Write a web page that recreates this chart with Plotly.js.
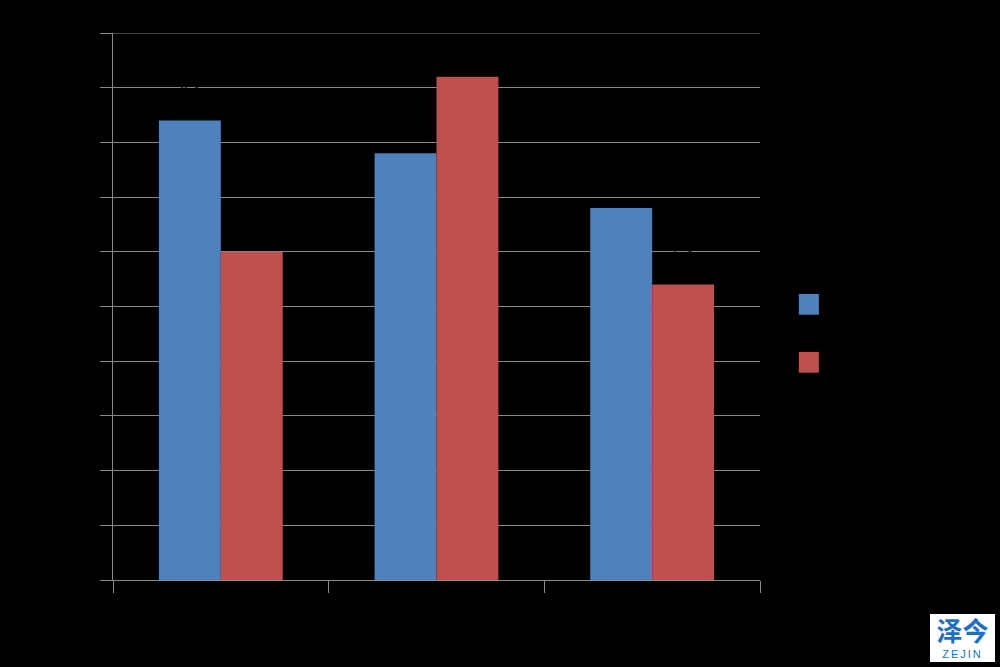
<!DOCTYPE html>
<html>
<head>
<meta charset="utf-8">
<script src="https://cdn.plot.ly/plotly-3.0.1.min.js"></script>
<style>
  html, body { margin: 0; padding: 0; background: #000000; }
  #chart { width: 1000px; height: 667px; }
</style>
</head>
<body>
<div id="chart"></div>
<script>
const categories = ["类别一", "类别二", "类别三"];
const seriesNames = ["系列1", "系列2"];
const series1 = [8.4, 7.8, 6.8];
const series2 = [6.0, 9.2, 5.4];
const yTicks = [0, 1, 2, 3, 4, 5, 6, 7, 8, 9, 10];
const yMax = 10;
const colors = ["#4F81BD", "#C0504D"];

const traces = [series1, series2].map((vals, i) => ({
  type: "bar",
  name: seriesNames[i],
  x: categories,
  y: vals,
  marker: { color: colors[i], line: { width: 0 } },
  text: vals.map(v => v.toFixed(1) + "<br> "),
  textposition: "outside",
  textfont: { color: "#000000", size: 14, family: "Liberation Sans, Arial, sans-serif" },
  cliponaxis: false,
  showlegend: false,
  hoverinfo: "x+y"
}));

const layout = {
  width: 1000,
  height: 667,
  paper_bgcolor: "#000000",
  plot_bgcolor: "#000000",
  font: { family: "Liberation Sans, Arial, sans-serif", color: "#000000", size: 13 },
  margin: { l: 113, r: 240, t: 33, b: 87 },
  barmode: "group",
  bargap: 0.426,
  bargroupgap: 0,
  xaxis: {
    type: "category",
    showline: true,
    linecolor: "#898989",
    linewidth: 1,
    ticks: "outside",
    tickson: "boundaries",
    ticklen: 12,
    tickcolor: "#898989",
    showgrid: false,
    tickfont: { color: "#000000", size: 13 },
    zeroline: false
  },
  yaxis: {
    range: [0, yMax],
    tickvals: yTicks,
    showline: true,
    linecolor: "#898989",
    linewidth: 1,
    ticks: "outside",
    ticklen: 12,
    tickcolor: "#898989",
    showgrid: true,
    gridcolor: "#898989",
    gridwidth: 1,
    zeroline: false,
    tickfont: { color: "#000000", size: 13 }
  },
  shapes: [
    { type: "line", xref: "paper", yref: "y", x0: 0, x1: 1, y0: yMax, y1: yMax, line: { color: "#898989", width: 1 }, layer: "below" },
    { type: "rect", xref: "paper", yref: "paper", x0: 1.06, x1: 1.091, y0: 0.485, y1: 0.523, fillcolor: colors[0], line: { width: 0 } },
    { type: "rect", xref: "paper", yref: "paper", x0: 1.06, x1: 1.091, y0: 0.379, y1: 0.417, fillcolor: colors[1], line: { width: 0 } }
  ],
  annotations: [
    { xref: "paper", yref: "paper", x: 1.1, y: 0.504, xanchor: "left", yanchor: "middle", text: seriesNames[0], showarrow: false, font: { color: "#000000", size: 13 } },
    { xref: "paper", yref: "paper", x: 1.1, y: 0.398, xanchor: "left", yanchor: "middle", text: seriesNames[1], showarrow: false, font: { color: "#000000", size: 13 } }
  ]
};

Plotly.newPlot("chart", traces, layout, { displayModeBar: false, staticPlot: true }).then(() => {
  // watermark overlay (not data)
  const wm = document.createElement("div");
  wm.style.cssText = "position:absolute;left:930px;top:614px;width:65px;height:48px;background:#ffffff;font-family:'Noto Sans CJK SC',sans-serif;color:#1E6EC8;";
  wm.innerHTML =
    '<div style="position:absolute;left:0;top:2px;width:65px;text-align:center;font-size:26px;line-height:28px;font-weight:bold;">泽今</div>' +
    '<div style="position:absolute;left:0;top:34px;width:65px;text-align:center;font-size:11px;line-height:12px;letter-spacing:2px;font-family:\'Liberation Sans\',sans-serif;">ZEJIN</div>';
  document.body.appendChild(wm);
});
</script>
</body>
</html>
